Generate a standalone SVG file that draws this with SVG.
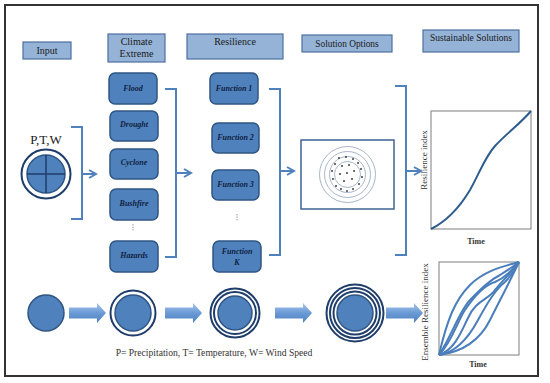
<svg xmlns="http://www.w3.org/2000/svg" width="550" height="383" viewBox="0 0 550 383">
<defs>
<style>
.hdr{fill:#95B3D7;stroke:#4F6FA0;stroke-width:1.2}
.ht{font-family:"Liberation Serif",serif;font-size:10px;fill:#1a1a1a;text-anchor:middle}
.nb{fill:#4F81BD;stroke:#2F5583;stroke-width:1.5}
.nt{font-family:"Liberation Serif",serif;font-size:8px;font-weight:bold;font-style:italic;fill:#0F1F3D;text-anchor:middle}
.br{fill:none;stroke:#4F81BD;stroke-width:2}
.ring{fill:none;stroke:#1F3D6B;stroke-width:2}
.disc{fill:#4F81BD;stroke:#2F5583;stroke-width:1.5}
.ax{fill:none;stroke:#7F7F7F;stroke-width:1}
.cv{fill:none;stroke:#4A7EBB;stroke-width:2}
.cv1{fill:none;stroke:#2E5C8F;stroke-width:2}
.lab{font-family:"Liberation Serif",serif;font-size:9px;fill:#333;text-anchor:middle}
.time{font-family:"Liberation Serif",serif;font-size:8px;font-weight:bold;fill:#333;text-anchor:middle}
.sc{fill:none;stroke:#8FA3BD;stroke-width:0.8}
.xm{stroke:#333;stroke-width:0.7}
.dot{stroke:#999;stroke-width:1;stroke-dasharray:1.5 1}
</style>
<marker id="ah" viewBox="0 0 10 10" refX="8" refY="5" markerWidth="5" markerHeight="5" orient="auto">
<path d="M1,1 L8,5 L1,9" fill="none" stroke="#4F81BD" stroke-width="2"/>
</marker>
<linearGradient id="ag" x1="0" y1="0" x2="0" y2="1">
<stop offset="0" stop-color="#A9C6EA"/>
<stop offset="0.5" stop-color="#6A9AD6"/>
<stop offset="1" stop-color="#4F81BD"/>
</linearGradient>
<path id="barrow" d="M0,4.5 L28,4.5 L28,0 L37,10 L28,20 L28,15.5 L0,15.5 Z" fill="url(#ag)"/>
</defs>
<rect x="0" y="0" width="550" height="383" fill="#fff"/>
<rect x="5" y="5" width="533" height="371" fill="none" stroke="#333" stroke-width="2"/>

<g id="hdr-input"><rect class="hdr" x="23" y="42" width="48" height="17"/><text class="ht" x="47" y="54">Input</text></g>
<g id="hdr-climate"><rect class="hdr" x="108" y="34" width="57" height="28"/><text class="ht" x="136.5" y="45">Climate</text><text class="ht" x="136.5" y="57">Extreme</text></g>
<g id="hdr-resilience"><rect class="hdr" x="187" y="34" width="96" height="25"/><text class="ht" x="235" y="45">Resilience</text></g>
<g id="hdr-solution"><rect class="hdr" x="302" y="35" width="90" height="17"/><text class="ht" x="347" y="47" style="font-size:9.3px">Solution Options</text></g>
<g id="hdr-sustainable"><rect class="hdr" x="423" y="30" width="96" height="22"/><text class="ht" x="471" y="41" style="font-size:9.5px">Sustainable Solutions</text></g>

<g id="input-ptw">
<text x="46" y="144" font-family="Liberation Serif,serif" font-size="13" fill="#1a1a1a" text-anchor="middle">P,T,W</text>
<circle class="ring" cx="46" cy="174" r="24.5"/>
<circle class="disc" cx="46" cy="174" r="19"/>
<path d="M46,155 V193 M27,174 H65" stroke="#1F3D6B" stroke-width="1.5"/>
</g>

<g id="n-flood"><rect class="nb" x="109" y="73" width="48" height="31" rx="6"/><text class="nt" x="133" y="91">Flood</text></g>
<g id="n-drought"><rect class="nb" x="110" y="111" width="48" height="30" rx="6"/><text class="nt" x="134" y="127">Drought</text></g>
<g id="n-cyclone"><rect class="nb" x="110" y="149" width="48" height="30" rx="6"/><text class="nt" x="134" y="165">Cyclone</text></g>
<g id="n-bushfire"><rect class="nb" x="110" y="189" width="48" height="31" rx="6"/><text class="nt" x="134" y="206">Bushfire</text></g>
<g id="n-hazards"><rect class="nb" x="110" y="241" width="48" height="31" rx="6"/><text class="nt" x="134" y="258">Hazards</text></g>
<line class="dot" x1="133" y1="224" x2="133" y2="231"/>

<g id="n-f1"><rect class="nb" x="210" y="73" width="48" height="31" rx="6"/><text class="nt" x="234" y="91">Function 1</text></g>
<g id="n-f2"><rect class="nb" x="212" y="123" width="47" height="30" rx="6"/><text class="nt" x="235.5" y="140">Function 2</text></g>
<g id="n-f3"><rect class="nb" x="212" y="170" width="47" height="30" rx="6"/><text class="nt" x="235.5" y="187">Function 3</text></g>
<g id="n-fk"><rect class="nb" x="213" y="241" width="48" height="31" rx="6"/><text class="nt" x="237" y="254">Function</text><text class="nt" x="237" y="265">K</text></g>
<line class="dot" x1="237" y1="214" x2="237" y2="221"/>

<g id="solution-box">
<rect x="301" y="140" width="93" height="69" fill="#fff" stroke="#3F6395" stroke-width="1.5"/>
<circle class="sc" cx="347.5" cy="174.5" r="28"/>
<circle class="sc" cx="347.5" cy="174.5" r="23"/>
<circle class="sc" cx="347.5" cy="174.5" r="18"/>
<circle class="sc" cx="347.5" cy="174.5" r="13"/>
<g class="xm">
<path d="M338,157l2,2m0,-2l-2,2 M345,156l2,2m0,-2l-2,2 M352,158l2,2m0,-2l-2,2 M357,162l2,2m0,-2l-2,2 M334,163l2,2m0,-2l-2,2 M360,168l2,2m0,-2l-2,2 M331,170l2,2m0,-2l-2,2 M361,176l2,2m0,-2l-2,2 M332,178l2,2m0,-2l-2,2 M358,183l2,2m0,-2l-2,2 M335,185l2,2m0,-2l-2,2 M352,188l2,2m0,-2l-2,2 M340,188l2,2m0,-2l-2,2 M346,190l2,2m0,-2l-2,2 M341,165l2,2m0,-2l-2,2 M348,164l2,2m0,-2l-2,2 M353,170l2,2m0,-2l-2,2 M339,173l2,2m0,-2l-2,2 M346,172l2,2m0,-2l-2,2 M351,178l2,2m0,-2l-2,2 M343,180l2,2m0,-2l-2,2"/>
</g>
</g>

<g id="chart-resilience">
<rect class="ax" x="431" y="111" width="100" height="118" fill="#fff"/>
<path class="cv1" d="M431,229 C445,222 458,210 470,190 C480,172 485,157 495,146 C508,132 520,124 531,111"/>
<text class="lab" transform="translate(427,160) rotate(-90)">Resilience index</text>
<text class="time" x="476" y="244">Time</text>
</g>

<g id="chart-ensemble">
<rect class="ax" x="439" y="262" width="80" height="93" fill="#fff"/>
<path class="cv" d="M439,355 C447,320 455,300 470,285 C485,270 505,266 519,262"/>
<path class="cv" d="M439,355 C452,335 460,310 470,300 C482,288 490,280 500,275 C508,270 514,266 519,262"/>
<path class="cv" d="M439,355 C452,342 458,320 465,310 C475,295 485,285 495,282 C505,278 512,270 519,262"/>
<path class="cv" d="M439,355 C455,350 462,330 468,318 C476,300 488,300 495,290 C505,278 512,272 519,262"/>
<path class="cv" d="M439,355 C458,352 470,335 478,320 C488,302 495,290 505,282 C512,275 516,268 519,262"/>
<path class="cv" d="M439,355 C462,352 480,340 490,320 C500,300 508,285 519,262"/>
<text class="lab" transform="translate(428,312) rotate(-90)">Ensemble Resilience index</text>
<text class="time" x="478" y="367">Time</text>
</g>

<g id="s1"><circle class="disc" cx="46" cy="313" r="18"/></g>
<g id="s2"><circle class="ring" cx="133" cy="313" r="22.5"/><circle class="disc" cx="133" cy="313" r="18"/></g>
<g id="s3"><circle class="ring" cx="235" cy="313" r="24.5"/><circle class="ring" cx="235" cy="313" r="21"/><circle class="disc" cx="235" cy="313" r="17"/></g>
<g id="s4"><circle class="ring" cx="355" cy="313" r="28.5"/><circle class="ring" cx="355" cy="313" r="25"/><circle class="ring" cx="355" cy="313" r="21.5"/><circle class="disc" cx="355" cy="313" r="18"/></g>

<text x="214" y="356" font-family="Liberation Serif,serif" font-size="9.6" fill="#333" text-anchor="middle">P= Precipitation, T= Temperature, W= Wind Speed</text>

<g id="connectors">
<path class="br" d="M71,127 H82 V219 H71"/>
<line class="br" x1="82" y1="174" x2="96" y2="174" marker-end="url(#ah)"/>
<path class="br" d="M165,89 H176 V257 H165"/>
<line class="br" x1="176" y1="173" x2="191" y2="173" marker-end="url(#ah)"/>
<path class="br" d="M269,89 H280 V255 H269"/>
<line class="br" x1="280" y1="171" x2="294" y2="171" marker-end="url(#ah)"/>
<path class="br" d="M395,86 H406 V255 H395"/>
<line class="br" x1="406" y1="171" x2="421" y2="171" marker-end="url(#ah)"/>
<use href="#barrow" x="69" y="303"/>
<use href="#barrow" x="165" y="303"/>
<use href="#barrow" x="275" y="303"/>
<use href="#barrow" x="386" y="303"/>
</g>
</svg>
